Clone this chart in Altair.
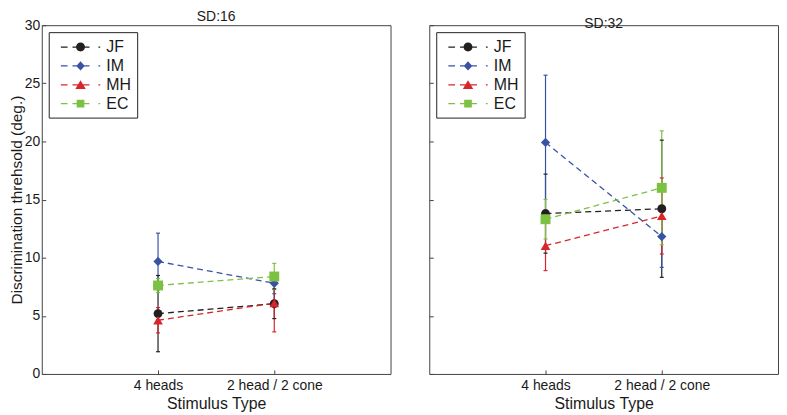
import altair as alt
import pandas as pd

# ---------------- data ----------------
conditions = ["4 heads", "2 head / 2 cone"]
cond_x = [1, 2]
subjects = ["JF", "IM", "MH", "EC"]
panels = ["SD:16", "SD:32"]

# mean thresholds per subject: [4 heads, 2 head / 2 cone]
sd16_mean = {"JF": [5.19, 6.04], "IM": [9.68, 7.80], "MH": [4.62, 6.09], "EC": [7.61, 8.38]}
sd16_err = {"JF": [3.28, 1.28], "IM": [2.43, 0.90], "MH": [1.09, 2.47], "EC": [0.60, 1.13]}
sd32_mean = {"JF": [13.79, 14.21], "IM": [19.91, 11.82], "MH": [11.03, 13.59], "EC": [13.31, 16.01]}
sd32_err = {"JF": [3.40, 5.90], "IM": [5.79, 2.65], "MH": [2.14, 3.27], "EC": [1.70, 4.90]}

colors = ["#231f20", "#3953a4", "#d7262b", "#7dc142"]
shapes = ["circle", "diamond", "triangle-up", "square"]
marker_sizes = [80, 100, 110, 64]

y_ticks = [0, 5, 10, 15, 20, 25, 30]

rows = []
for panel, means, errs in [(panels[0], sd16_mean, sd16_err), (panels[1], sd32_mean, sd32_err)]:
    for s in subjects:
        for i, xv in enumerate(cond_x):
            m, e = means[s][i], errs[s][i]
            rows.append({"panel": panel, "subject": s, "x": xv, "mean": m,
                         "lo": m - e, "hi": m + e})
df = pd.DataFrame(rows)


# legend symbols: dash - marker - dot (MATLAB style), unit box scaled by symbol size
def bar(x0, x1, h=0.07):
    return f"M{x0},{-h}H{x1}V{h}H{x0}Z"


dash = bar(-2.2, -1.45) + bar(-0.9, 1.0) + bar(2.0, 2.2)
marker_paths = [
    "M-0.5,0A0.5,0.5 0 1,1 0.5,0A0.5,0.5 0 1,1 -0.5,0Z",
    "M0,-0.52L0.48,0L0,0.52L-0.48,0Z",
    "M0,-0.5L0.58,0.48L-0.58,0.48Z",
    "M-0.43,-0.43H0.43V0.43H-0.43Z",
]
legend_paths = [dash + p for p in marker_paths]

label_expr = " : ".join(
    [f"datum.value == {xv} ? '{lab}'" for xv, lab in zip(cond_x, conditions)]
) + " : ''"

FONT = "Liberation Sans"


def make_panel(name, first):
    base = alt.Chart(df).transform_filter(alt.datum.panel == name)
    xaxis = alt.Axis(values=cond_x, labelExpr=label_expr, title="Stimulus Type",
                     grid=False, domain=False, offset=-4, tickSize=4,
                     labelPadding=5, titlePadding=3)
    if first:
        yaxis = alt.Axis(values=y_ticks, title="Discrimination threhsold (deg.)",
                         grid=False, domain=False, offset=-4, tickSize=4,
                         labelPadding=2, titlePadding=0, titleFontSize=15.5)
    else:
        yaxis = alt.Axis(values=y_ticks, title=None, labels=False, grid=False,
                         domain=False, offset=-4, tickSize=4, minExtent=0)
    xs = alt.Scale(domain=[0, 3], nice=False, zero=False)
    ys = alt.Scale(domain=[0, 30], nice=False)
    X = alt.X("x:Q", scale=xs, axis=xaxis)
    col = alt.Color("subject:N", scale=alt.Scale(domain=subjects, range=colors), legend=None)

    rules = base.mark_rule(strokeWidth=1.2).encode(
        x=X, y=alt.Y("lo:Q", scale=ys, axis=yaxis), y2="hi:Q", color=col)
    cap_lo = base.mark_tick(orient="horizontal", size=4, thickness=1.2, opacity=1).encode(
        x=X, y=alt.Y("lo:Q", scale=ys, axis=yaxis), color=col)
    cap_hi = base.mark_tick(orient="horizontal", size=4, thickness=1.2, opacity=1).encode(
        x=X, y=alt.Y("hi:Q", scale=ys, axis=yaxis), color=col)
    lines = base.mark_line(strokeDash=[6, 4], strokeWidth=1.3).encode(
        x=X, y=alt.Y("mean:Q", scale=ys, axis=yaxis), color=col, detail="subject:N")
    points = base.mark_point(filled=True, opacity=1).encode(
        x=X, y=alt.Y("mean:Q", scale=ys, axis=yaxis), color=col,
        shape=alt.Shape("subject:N", scale=alt.Scale(domain=subjects, range=shapes), legend=None),
        size=alt.Size("subject:N", scale=alt.Scale(domain=subjects, range=marker_sizes), legend=None),
    )
    leg = alt.Legend(title=None, orient="top-left", offset=7, strokeColor="#222",
                     fillColor="white", padding=6, labelFontSize=16, labelFont=FONT,
                     labelColor="#1a1a1a", symbolSize=324, symbolOffset=17,
                     labelOffset=17, rowPadding=2, symbolStrokeWidth=0,
                     symbolOpacity=1, cornerRadius=0)
    legend_layer = base.transform_filter("false").mark_point(filled=True, opacity=1).encode(
        x=X, y=alt.Y("mean:Q", scale=ys, axis=yaxis),
        color=alt.Color("subject:N", scale=alt.Scale(domain=subjects, range=colors), legend=leg),
        shape=alt.Shape("subject:N", scale=alt.Scale(domain=subjects, range=legend_paths), legend=leg),
    )
    return alt.layer(rules, cap_lo, cap_hi, lines, points, legend_layer).resolve_scale(
        color="independent", shape="independent", size="independent"
    ).properties(
        width=351, height=351,
        title=alt.TitleParams(name, fontSize=14, fontWeight="normal", font=FONT,
                              anchor="middle", offset=-6, color="#1a1a1a"),
    )


chart = alt.hconcat(make_panel(panels[0], True), make_panel(panels[1], False), spacing=37,
                    padding=0).resolve_legend(color="independent", shape="independent").configure_view(
    stroke="#444", strokeWidth=1
).configure_axis(
    labelFont=FONT, titleFont=FONT, labelFontSize=14, titleFontSize=16,
    titleFontWeight="normal", labelColor="#1a1a1a", titleColor="#1a1a1a",
    tickColor="#444",
)

chart.save("out.html", embed_options={"renderer": "svg", "actions": False})
